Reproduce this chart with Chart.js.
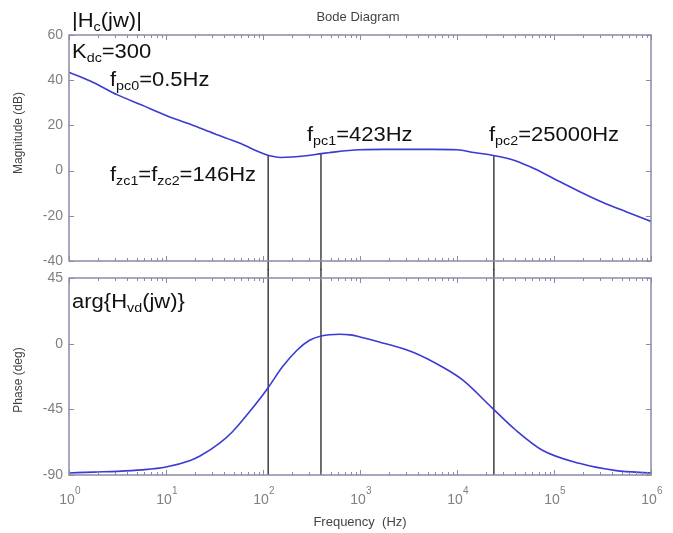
<!DOCTYPE html>
<html>
<head>
<meta charset="utf-8">
<script src="https://cdn.jsdelivr.net/npm/chart.js@4.4.1/dist/chart.umd.min.js"></script>
<style>
  html, body { margin: 0; padding: 0; background: #fff; }
  #wrap { position: relative; width: 673px; height: 533px; }
  #wrap canvas { position: absolute; left: 0; top: 0; }
</style>
</head>
<body>
<div id="wrap">
  <canvas id="magChart" width="673" height="533"></canvas>
  <canvas id="phaseChart" width="673" height="533"></canvas>
</div>
<script>
// frequency (Hz) of the magnitude samples
const freqs = [1, 1.78, 3.16, 5.62, 10, 17.8, 31.6, 56.2, 100, 120, 150, 200, 280, 400, 560,
  1000, 1780, 3160, 5620, 10000, 15000, 23700, 40000, 63000, 100000, 178000, 316000, 562000, 1000000];
// magnitude (dB)
const magDb = [43.5, 39, 33.5, 29, 24.4, 20.5, 16.3, 12.3, 7.6, 6.5, 5.8, 6.0, 6.6, 7.5, 8.3,
  9.2, 9.4, 9.4, 9.4, 9.2, 8.0, 6.7, 4.4, 0.8, -3.6, -9, -14, -18.3, -22.5];

// frequency (Hz) of the phase samples
const phaseFreqs = [1, 1.78, 3.16, 5.62, 10, 17.8, 22.4, 36, 49, 74, 112, 158, 224, 302, 398, 617, 794,
  1000, 1580, 3470, 7080, 11500, 23000, 40000, 75900, 182000, 437000, 1000000];
// phase (deg)
const phaseDeg = [-88.6, -88, -87.5, -86.5, -84.5, -80, -77, -68, -60, -46, -30.5, -16, -4.5, 2.3, 5.3, 6.5, 6.0,
  4.6, 1.2, -5.7, -16, -25, -44, -59, -73, -82, -87, -88.6];

// the three marked frequencies (vertical lines) and where they meet the magnitude curve
const markFreqs = [113, 396, 24000];
const markMag = [6.7, 7.5, 6.6];

const magTicks = [-40, -20, 0, 20, 40, 60];
const phaseTicks = [-90, -45, 0, 45];
const decades = [0, 1, 2, 3, 4, 5, 6];

const blue = '#3a3ad4';
const frameColor = '#8a8aa8';
const tickText = '#808080';
const FONT = 'Arial, "Liberation Sans"';

function pts(xs, ys) { return xs.map((x, i) => ({ x: x, y: ys[i] })); }

// frame + inward ticks, MATLAB style
const frame = {
  id: 'frame',
  afterDatasetsDraw(chart, args, opts) {
    const ctx = chart.ctx, a = chart.chartArea;
    const xs = chart.scales.x, ys = chart.scales.y;
    ctx.save();
    ctx.strokeStyle = frameColor;
    ctx.lineWidth = 1.5;
    ctx.strokeRect(a.left, a.top, a.right - a.left, a.bottom - a.top);
    ctx.lineWidth = 1;
    ctx.beginPath();
    decades.forEach(d => {
      for (let m = 1; m <= 9; m++) {
        if (d === 6 && m > 1) break;
        const x = Math.round(xs.getPixelForValue(m * Math.pow(10, d))) + 0.5;
        const len = m === 1 ? 5 : 3;
        ctx.moveTo(x, a.bottom); ctx.lineTo(x, a.bottom - len);
        ctx.moveTo(x, a.top); ctx.lineTo(x, a.top + len);
      }
    });
    opts.yTicks.forEach(v => {
      const y = Math.round(ys.getPixelForValue(v)) + 0.5;
      ctx.moveTo(a.left, y); ctx.lineTo(a.left + 5, y);
      ctx.moveTo(a.right, y); ctx.lineTo(a.right - 5, y);
    });
    ctx.stroke();

    ctx.fillStyle = '#444';
    ctx.font = '12px ' + FONT;
    ctx.textAlign = 'center';
    ctx.textBaseline = 'middle';
    ctx.save();
    ctx.translate(19, opts.yTitleY);
    ctx.rotate(-Math.PI / 2);
    ctx.fillText(opts.yTitle, 0, 0);
    ctx.restore();

    if (opts.xLabels) {
      decades.forEach(d => {
        const x = xs.getPixelForValue(Math.pow(10, d));
        ctx.fillStyle = tickText;
        ctx.font = '14px ' + FONT;
        ctx.textAlign = 'center';
        ctx.textBaseline = 'alphabetic';
        ctx.fillText('10', x - 2, 504);
        ctx.font = '10px ' + FONT;
        ctx.textAlign = 'left';
        ctx.fillText(String(d), x + 6, 494);
      });
      ctx.fillStyle = '#444';
      ctx.font = '13px ' + FONT;
      ctx.textAlign = 'center';
      ctx.fillText('Frequency  (Hz)', (a.left + a.right) / 2, 526);
    }
    ctx.restore();
  }
};

// annotation texts with subscripts
function richText(ctx, x, y, parts, size) {
  ctx.save();
  ctx.translate(x, y);
  ctx.scale(1.1, 1);
  let cx = 0;
  parts.forEach(p => {
    const sub = Array.isArray(p);
    const t = sub ? p[0] : p;
    ctx.font = (sub ? Math.round(size * 0.64) : size) + 'px ' + FONT;
    ctx.fillText(t, cx, sub ? size * 0.22 : 0);
    cx += ctx.measureText(t).width;
  });
  ctx.restore();
}

const notes = [
  { x: 72, y: 27, parts: ['|H', ['c'], '(jw)|'] },
  { x: 72, y: 58, parts: ['K', ['dc'], '=300'] },
  { x: 110, y: 86, parts: ['f', ['pc0'], '=0.5Hz'] },
  { x: 110, y: 181, parts: ['f', ['zc1'], '=f', ['zc2'], '=146Hz'] },
  { x: 307, y: 141, parts: ['f', ['pc1'], '=423Hz'] },
  { x: 489, y: 141, parts: ['f', ['pc2'], '=25000Hz'] },
  { x: 72, y: 308, parts: ['arg{H', ['vd'], '(jw)}'] }
];

const annotate = {
  id: 'annotate',
  afterDraw(chart) {
    const ctx = chart.ctx;
    ctx.save();
    ctx.fillStyle = '#111';
    ctx.textAlign = 'left';
    ctx.textBaseline = 'alphabetic';
    notes.forEach(n => richText(ctx, n.x, n.y, n.parts, 20));
    ctx.fillStyle = '#444';
    ctx.font = '13px ' + FONT;
    ctx.textAlign = 'center';
    ctx.fillText('Bode Diagram', 358, 21);
    ctx.restore();
  }
};

function yAxis(min, max, step) {
  return {
    type: 'linear', min: min, max: max,
    afterFit: s => { s.width = 69; },
    grid: { display: false, drawTicks: false },
    border: { display: false },
    ticks: { stepSize: step, padding: 6, color: tickText, font: { size: 14, family: FONT } }
  };
}
const xAxis = { type: 'logarithmic', min: 1, max: 1000000, display: false };

function markLines(top, bottomY, topY) {
  return markFreqs.map((f, i) => ({
    data: [{ x: f, y: top ? markMag[i] : topY }, { x: f, y: bottomY }],
    borderColor: '#111', borderWidth: 1.2, pointRadius: 0, clip: false, order: 2
  }));
}

function curve(xs, ys) {
  return { data: pts(xs, ys), borderColor: blue, borderWidth: 1.6, pointRadius: 0,
    cubicInterpolationMode: 'monotone', order: 1 };
}

new Chart(document.getElementById('magChart'), {
  type: 'line',
  data: { datasets: [curve(freqs, magDb)].concat(markLines(true, -44)) },
  options: {
    responsive: false, animation: false, devicePixelRatio: 1,
    layout: { padding: { left: 0, top: 35, right: 22, bottom: 272 } },
    plugins: { legend: { display: false }, tooltip: { enabled: false },
      frame: { yTicks: magTicks, yTitle: 'Magnitude (dB)', yTitleY: 133, xLabels: false } },
    scales: { x: xAxis, y: yAxis(-40, 60, 20) }
  },
  plugins: [frame, annotate]
});

new Chart(document.getElementById('phaseChart'), {
  type: 'line',
  data: { datasets: [curve(phaseFreqs, phaseDeg)].concat(markLines(false, -90, 51)) },
  options: {
    responsive: false, animation: false, devicePixelRatio: 1,
    layout: { padding: { left: 0, top: 278, right: 22, bottom: 58 } },
    plugins: { legend: { display: false }, tooltip: { enabled: false },
      frame: { yTicks: phaseTicks, yTitle: 'Phase (deg)', yTitleY: 380, xLabels: true } },
    scales: { x: xAxis, y: yAxis(-90, 45, 45) }
  },
  plugins: [frame]
});
</script>
</body>
</html>
